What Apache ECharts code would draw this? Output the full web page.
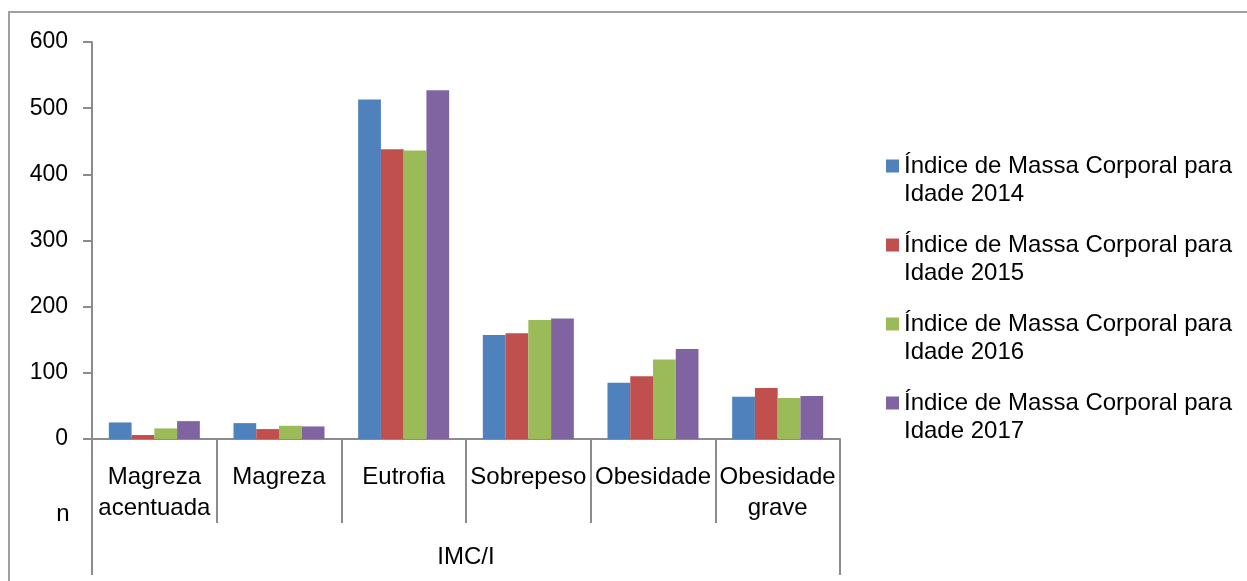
<!DOCTYPE html>
<html>
<head>
<meta charset="utf-8">
<script src="https://cdn.jsdelivr.net/npm/echarts@6/dist/echarts.min.js"></script>
<style>
html,body{margin:0;padding:0;background:#fff;}
#chart{width:1247px;height:581px;}
</style>
</head>
<body>
<div id="chart"></div>
<script>
var categories = ['Magreza acentuada', 'Magreza', 'Eutrofia', 'Sobrepeso', 'Obesidade', 'Obesidade grave'];
var groupLabel = ['IMC/I'];
var seriesNames = [
  'Índice de Massa Corporal para Idade 2014',
  'Índice de Massa Corporal para Idade 2015',
  'Índice de Massa Corporal para Idade 2016',
  'Índice de Massa Corporal para Idade 2017'
];
var values2014 = [25, 24, 513, 157, 85, 64];
var values2015 = [6, 15, 438, 160, 95, 77];
var values2016 = [16, 20, 436, 180, 120, 62];
var values2017 = [27, 19, 527, 182, 136, 65];
var colors = ['#4F81BD', '#C0504D', '#9BBB59', '#8064A2'];
var yTicks = {min: 0, max: 600, interval: 100};
var yName = 'n';

var font = 'Liberation Sans, Arial, sans-serif';
var axisGray = '#8C8C8C';
var allValues = [values2014, values2015, values2016, values2017];

var chart = echarts.init(document.getElementById('chart'), null, {renderer: 'canvas'});
var option = {
  animation: false,
  color: colors,
  graphic: [{
    type: 'rect',
    shape: {x: 9, y: 12, width: 1400, height: 700},
    style: {fill: 'none', stroke: '#A0A0A0', lineWidth: 2},
    silent: true,
    z: -10
  }],
  grid: {left: 92, right: 407, top: 42, bottom: 142, containLabel: false},
  legend: {
    orient: 'vertical',
    left: 881,
    top: 119,
    itemWidth: 13,
    itemHeight: 13,
    itemGap: -5,
    icon: 'rect',
    data: seriesNames,
    formatter: function (name) {
      return ' \n' + name.replace(' Idade', '\nIdade');
    },
    textStyle: {fontFamily: font, fontSize: 24, lineHeight: 28, color: '#000', padding: [0, 0, 0, 0]}
  },
  xAxis: [{
    type: 'category',
    data: categories,
    position: 'bottom',
    axisLine: {show: true, lineStyle: {color: axisGray, width: 2}},
    axisTick: {show: true, length: 84, alignWithLabel: false, lineStyle: {color: axisGray, width: 2}},
    axisLabel: {
      interval: 0,
      margin: 23,
      fontFamily: font,
      fontSize: 24,
      lineHeight: 31,
      color: '#000',
      formatter: function (v) { return v.replace(' ', '\n'); }
    },
    splitLine: {show: false}
  }, {
    type: 'category',
    data: groupLabel,
    position: 'bottom',
    offset: 0,
    axisLine: {show: false},
    axisTick: {show: true, length: 136, alignWithLabel: false, lineStyle: {color: axisGray, width: 2}},
    axisLabel: {margin: 106, fontFamily: font, fontSize: 24, color: '#000'},
    splitLine: {show: false}
  }],
  yAxis: {
    type: 'value',
    min: yTicks.min,
    max: yTicks.max,
    interval: yTicks.interval,
    name: yName,
    nameLocation: 'start',
    nameGap: 63,
    nameTextStyle: {fontFamily: font, fontSize: 24, color: '#000', padding: [0, 58, 0, 0]},
    axisLine: {show: true, lineStyle: {color: axisGray, width: 2}},
    axisTick: {show: true, length: 9, lineStyle: {color: axisGray, width: 2}},
    axisLabel: {margin: 24, fontFamily: font, fontSize: 23, color: '#000'},
    splitLine: {show: false}
  },
  series: seriesNames.map(function (n, i) {
    return {
      name: n,
      type: 'bar',
      xAxisIndex: 0,
      data: allValues[i],
      barGap: '0%',
      barCategoryGap: '27%',
      itemStyle: {color: colors[i]}
    };
  })
};
chart.setOption(option);
</script>
</body>
</html>
